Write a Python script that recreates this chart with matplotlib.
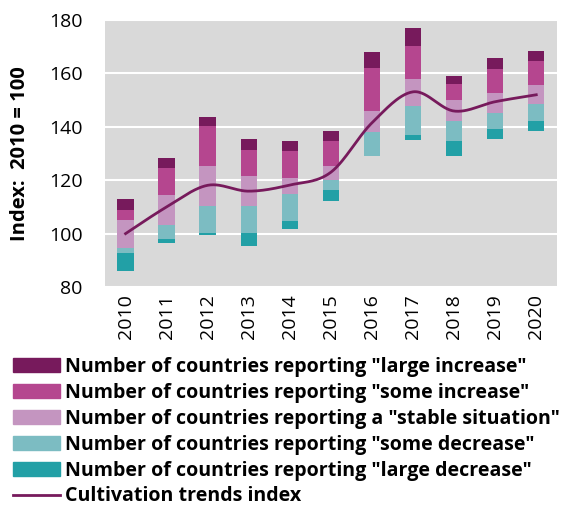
import numpy as np
import matplotlib.pyplot as plt
from matplotlib.patches import Patch
from matplotlib.lines import Line2D

plt.rcParams['font.family'] = ['Open Sans', 'DejaVu Sans']

years = [2010, 2011, 2012, 2013, 2014, 2015, 2016, 2017, 2018, 2019, 2020]
base = [86.0, 96.4, 99.4, 95.3, 101.9, 112.3, 128.9, 134.9, 128.9, 135.5, 138.5]
large_decrease = [6.8, 1.7, 0.9, 5.0, 2.7, 4.0, 0.0, 2.0, 5.7, 3.8, 3.8]
some_decrease = [1.9, 5.0, 10.1, 10.1, 10.3, 3.9, 9.0, 11.0, 7.4, 6.0, 6.1]
stable = [10.3, 11.3, 15.0, 11.1, 5.9, 5.3, 8.0, 10.1, 8.0, 7.2, 7.1]
some_increase = [3.8, 10.0, 15.0, 9.9, 10.1, 9.0, 16.1, 12.1, 6.0, 9.1, 9.1]
large_increase = [4.0, 4.0, 3.1, 4.0, 3.9, 4.0, 5.9, 7.0, 3.0, 4.0, 3.9]
trend_index = [100.0, 110.0, 118.1, 115.9, 118.2, 123.0, 141.5, 153.1, 145.9, 149.4, 152.0]

labels = ['Number of countries reporting "large increase"',
          'Number of countries reporting "some increase"',
          'Number of countries reporting a "stable situation"',
          'Number of countries reporting "some decrease"',
          'Number of countries reporting "large decrease"',
          'Cultivation trends index']

c_li = '#771A5C'
c_si = '#B5468F'
c_st = '#C495C0'
c_sd = '#7CBCC2'
c_ld = '#22A0A6'


def smooth(x, y, n=30):
    # bezier smoothing like a spreadsheet "smoothed line"
    x = np.asarray(x, float)
    y = np.asarray(y, float)
    px = np.concatenate([[x[0]], x, [x[-1]]])
    py = np.concatenate([[y[0]], y, [y[-1]]])
    xs, ys = [], []
    t = np.linspace(0, 1, n)
    for i in range(1, len(px) - 2):
        p0 = np.array([px[i], py[i]])
        p3 = np.array([px[i + 1], py[i + 1]])
        p1 = p0 + (np.array([px[i + 1], py[i + 1]]) - np.array([px[i - 1], py[i - 1]])) / 6
        p2 = p3 - (np.array([px[i + 2], py[i + 2]]) - np.array([px[i], py[i]])) / 6
        b = ((1 - t) ** 3)[:, None] * p0 + (3 * (1 - t) ** 2 * t)[:, None] * p1 \
            + (3 * (1 - t) * t ** 2)[:, None] * p2 + (t ** 3)[:, None] * p3
        xs.extend(b[:, 0])
        ys.extend(b[:, 1])
    return xs, ys


fig = plt.figure(figsize=(5.74, 5.13), dpi=100)
ax = fig.add_axes([0.183, 0.4405, 0.787, 0.5205])
ax.set_facecolor('#D9D9D9')

x = np.array(years)
w = 0.4
bottom = np.array(base)
for vals, col in [(large_decrease, c_ld), (some_decrease, c_sd), (stable, c_st),
                  (some_increase, c_si), (large_increase, c_li)]:
    ax.bar(x, vals, width=w, bottom=bottom, color=col, zorder=3)
    bottom = bottom + np.array(vals)

sx, sy = smooth(years, trend_index)
ax.plot(sx, sy, color=c_li, lw=2, zorder=4)

ax.set_xlim(2009.5, 2020.5)
ax.set_ylim(80, 180)
ax.set_yticks(range(80, 181, 20))
ax.set_xticks(years)
ax.set_xticklabels([str(y) for y in years], rotation=90)
ax.tick_params(length=0, labelsize=14)
ax.tick_params(axis='x', pad=5)
ax.tick_params(axis='y', pad=16)
ax.grid(axis='y', color='white', lw=1.5, zorder=1)
ax.set_axisbelow(True)
for s in ax.spines.values():
    s.set_visible(False)
ax.set_ylabel('Index:  2010 = 100', fontsize=14.5, fontweight='bold')
ax.yaxis.set_label_coords(-0.166, 0.5)

handles = [Patch(color=c_li), Patch(color=c_si), Patch(color=c_st),
           Patch(color=c_sd), Patch(color=c_ld),
           Line2D([0], [0], color=c_li, lw=2)]
fig.legend(handles, labels, loc='upper left', bbox_to_anchor=(0.022, 0.304),
           frameon=False, prop={'weight': 'bold', 'size': 14.1},
           handlelength=2.4, handleheight=0.7, handletextpad=0.27,
           labelspacing=0.3, borderaxespad=0, borderpad=0)

fig.savefig('out.png', dpi=100)
